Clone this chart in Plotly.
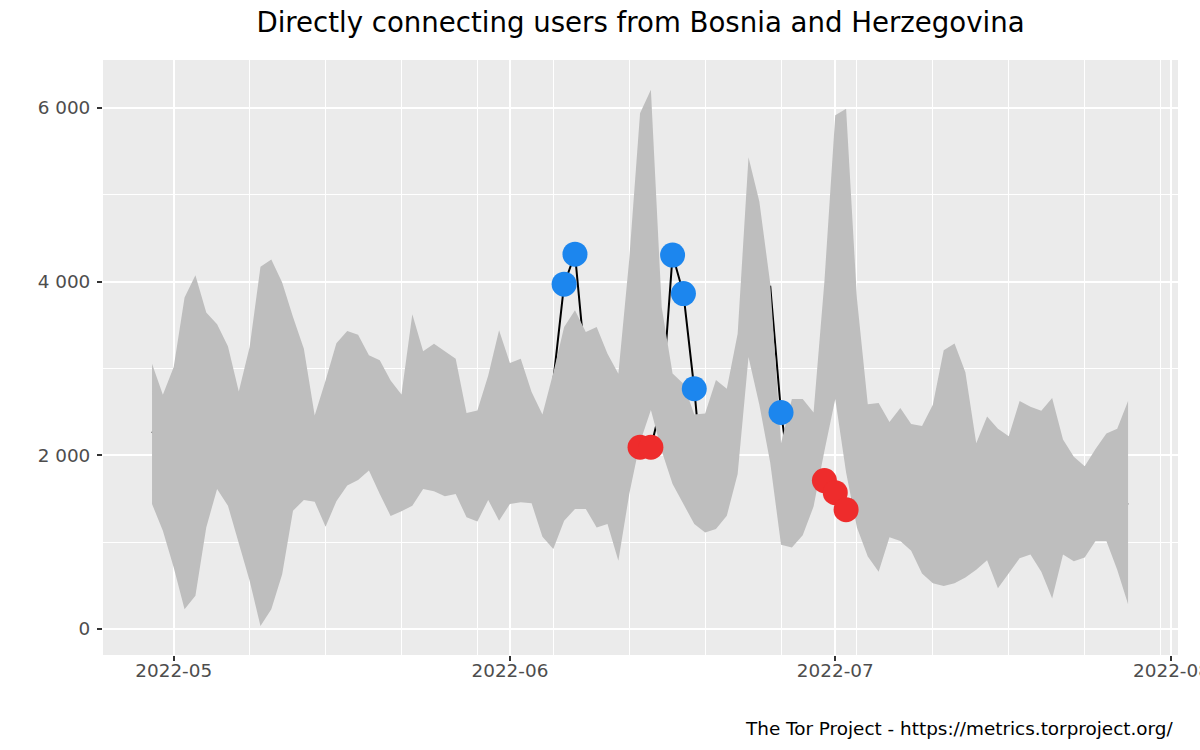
import pandas as pd
import plotly.graph_objects as go

# one value per day, 2022-04-29 .. 2022-07-28
dates = pd.date_range("2022-04-29", "2022-07-28", freq="D")

users = [
    2273, 2150, 1950, 2050, 2250, 2400, 2500, 2300, 1950, 1900,   # Apr29 - May8
    2100, 2300, 2400, 2500, 2350, 1950, 2050, 2350, 2550, 2600,   # May9 - May18
    2500, 2300, 2100, 2000, 2550, 2450, 2400, 2350, 2300, 1900,   # May19 - May28
    1850, 2200, 2350, 2250, 2300, 2100, 1850, 2850, 3969, 4315,   # May29 - Jun7
    2990, 2500, 2350, 1900, 2300, 2092, 2092, 2600, 4304, 3861,   # Jun8 - Jun17
    2765, 1400, 1950, 2050, 2600, 4200, 3650, 3950, 2492, 1600,   # Jun18 - Jun27
    1850, 1950, 1708, 1569, 1373, 1600, 1700, 1650, 1750, 1800,   # Jun28 - Jul7
    1650, 1500, 1550, 1850, 1900, 1750, 1400, 1600, 1400, 1400,   # Jul8 - Jul17
    1700, 1700, 1600, 1500, 1500, 1400, 1350, 1550, 1650, 1500,   # Jul18 - Jul27
    1430,                                                         # Jul28
]

lower = [
    1438, 1131, 707, 227, 381, 1169, 1612, 1419, 977, 554,
    35, 227, 631, 1361, 1485, 1465, 1177, 1470, 1650, 1716,
    1823, 1554, 1300, 1354, 1419, 1612, 1584, 1527, 1554, 1285,
    1238, 1485, 1246, 1438, 1458, 1446, 1062, 919, 1246, 1381,
    1381, 1169, 1208, 785, 1550, 2150, 2520, 2050, 1669, 1438,
    1208, 1111, 1150, 1304, 1785, 3130, 2580, 1917, 969, 937,
    1078, 1409, 2050, 2646, 1800, 1167, 835, 659, 1056, 1012,
    901, 637, 526, 495, 526, 593, 681, 792, 468, 637,
    813, 857, 659, 350, 857, 778, 823, 1012, 1012, 681,
    284,
]

upper = [
    3054, 2697, 3015, 3815, 4073, 3642, 3508, 3254, 2735, 3246,
    4169, 4254, 3988, 3592, 3227, 2458, 2861, 3290, 3430, 3388,
    3150, 3092, 2861, 2700, 3623, 3196, 3284, 3196, 3111, 2485,
    2515, 2919, 3438, 3061, 3111, 2727, 2469, 2950, 3476, 3669,
    3419, 3476, 3169, 2938, 4250, 5938, 6208, 3700, 2940, 2823,
    2469, 2480, 2866, 2765, 3397, 5430, 4920, 3980, 2138, 2646,
    2646, 2492, 4000, 5913, 5988, 3800, 2588, 2602, 2381, 2544,
    2358, 2336, 2580, 3208, 3286, 2955, 2138, 2447, 2305, 2218,
    2624, 2558, 2513, 2659, 2182, 1983, 1873, 2072, 2249, 2305,
    2624,
]

up_x = [d for d, u, hi in zip(dates, users, upper) if u > hi]
up_y = [u for u, hi in zip(users, upper) if u > hi]
down_x = [d for d, u, lo in zip(dates, users, lower) if u < lo]
down_y = [u for u, lo in zip(users, lower) if u < lo]

fig = go.Figure()

# line first, the ribbon covers it
fig.add_trace(go.Scatter(x=dates, y=users, mode="lines",
                         line=dict(color="black", width=2), hoverinfo="skip"))
fig.add_trace(go.Scatter(
    x=list(dates) + list(dates[::-1]),
    y=upper + lower[::-1],
    mode="lines", fill="toself", fillcolor="#BEBEBE",
    line=dict(width=0, color="#BEBEBE"), hoverinfo="skip",
))
fig.add_trace(go.Scatter(x=up_x, y=up_y, mode="markers",
                         marker=dict(color="#1C86EE", size=25)))
fig.add_trace(go.Scatter(x=down_x, y=down_y, mode="markers",
                         marker=dict(color="#EE2C2C", size=25)))

fig.update_layout(
    width=1200, height=750,
    showlegend=False,
    separators=". ",
    plot_bgcolor="#EBEBEB",
    paper_bgcolor="white",
    margin=dict(l=103, r=22, t=60, b=95),
    font=dict(family="DejaVu Sans", size=18.4, color="#4D4D4D"),
    title=dict(
        text="Directly connecting users from Bosnia and Herzegovina",
        x=0.5, xref="paper", xanchor="center",
        y=1 - 22 / 750, yref="container", yanchor="middle",
        font=dict(size=27.6, color="black"),
    ),
    xaxis=dict(
        type="date",
        range=["2022-04-24 11:30", "2022-08-01 14:30"],
        dtick="M1", tick0="2022-05-01", tickformat="%Y-%m",
        ticks="outside", ticklen=5, tickwidth=2, tickcolor="#333333",
        ticklabeloverflow="allow", ticklabelstandoff=-6, automargin=False,
        showgrid=True, gridcolor="white", gridwidth=2,
        minor=dict(dtick=7 * 86400000, tick0="2022-05-01",
                   showgrid=True, gridcolor="white", gridwidth=1),
        zeroline=False, showline=False,
    ),
    yaxis=dict(
        range=[-300, 6550],
        tick0=0, dtick=2000, tickformat=",d",
        ticks="outside", ticklen=5, tickwidth=2, tickcolor="#333333",
        ticklabelstandoff=3, automargin=False,
        showgrid=True, gridcolor="white", gridwidth=2,
        minor=dict(dtick=1000, showgrid=True, gridcolor="white", gridwidth=1),
        zeroline=False, showline=False,
    ),
    annotations=[dict(
        text="The Tor Project - https://metrics.torproject.org/",
        xref="paper", yref="paper", x=1, y=-73 / 595,
        xanchor="right", yanchor="middle", xshift=-3, showarrow=False,
        font=dict(size=18.4, color="black"),
    )],
)

# no page margin, and the last date label is cut at the window edge like in the original
page_css = ("document.body.style.margin='0';"
            "document.body.style.overflow='hidden';"
            "document.documentElement.style.overflow='hidden';")
fig.write_html("out.html", post_script=page_css,
               config={"displayModeBar": False})
